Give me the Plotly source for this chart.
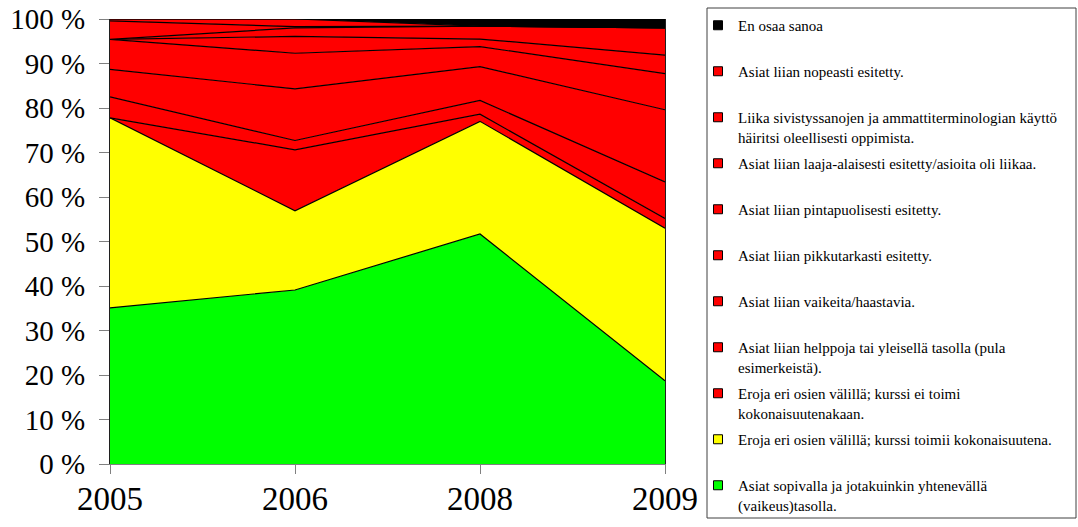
import plotly.graph_objects as go

# Survey years (category axis)
years = ["2005", "2006", "2008", "2009"]

# Response shares in percent, one list per answer option (bottom of stack first)
sopivalla = [35.1, 39.1, 51.7, 18.7]
eroja_toimii = [42.7, 17.8, 25.3, 34.3]
eroja_ei_toimi = [0.0, 13.7, 1.6, 2.2]
helppoja = [4.7, 2.1, 3.1, 8.2]
vaikeita = [6.2, 11.6, 7.6, 16.2]
pikkutarkasti = [6.7, 8.0, 4.5, 8.1]
pintapuolisesti = [0.0, 3.8, 1.7, 4.2]
laaja_alaisesti = [0.0, 1.9, 2.9, 6.1]
sivistyssanat = [4.2, 0.3, 0.0, 0.0]
nopeasti = [0.4, 1.7, 0.0, 0.0]
en_osaa = [0.0, 0.0, 1.6, 2.0]

series_names = [
    "Asiat sopivalla ja jotakuinkin yhtenevällä<br>(vaikeus)tasolla.",
    "Eroja eri osien välillä; kurssi toimii kokonaisuutena.<br> ",
    "Eroja eri osien välillä; kurssi ei toimi<br>kokonaisuutenakaan.",
    "Asiat liian helppoja tai yleisellä tasolla (pula<br>esimerkeistä).",
    "Asiat liian vaikeita/haastavia.<br> ",
    "Asiat liian pikkutarkasti esitetty.<br> ",
    "Asiat liian pintapuolisesti esitetty.<br> ",
    "Asiat liian laaja-alaisesti esitetty/asioita oli liikaa.<br> ",
    "Liika sivistyssanojen ja ammattiterminologian käyttö<br>häiritsi oleellisesti oppimista.",
    "Asiat liian nopeasti esitetty.<br> ",
    "En osaa sanoa<br> ",
]
series_values = [
    sopivalla, eroja_toimii, eroja_ei_toimi, helppoja, vaikeita,
    pikkutarkasti, pintapuolisesti, laaja_alaisesti, sivistyssanat,
    nopeasti, en_osaa,
]
series_colors = [
    "#00FF00", "#FFFF00", "#FF0000", "#FF0000", "#FF0000", "#FF0000",
    "#FF0000", "#FF0000", "#FF0000", "#FF0000", "#000000",
]

FONT = "Liberation Serif"

fig = go.Figure()

# Stacked areas, outlined in black
for name, vals, col in zip(series_names, series_values, series_colors):
    fig.add_trace(go.Scatter(
        x=years, y=vals, stackgroup="one", mode="lines",
        line=dict(color="#000000", width=1.2),
        fillcolor=col, name=name, showlegend=False, hoverinfo="x+y+name",
    ))

# Legend entries with square swatches, listed top of stack first
for i, (name, col) in enumerate(reversed(list(zip(series_names, series_colors)))):
    fig.add_trace(go.Scatter(
        x=[None], y=[None], mode="markers", name=name,
        legendgroup=f"g{i}",
        marker=dict(symbol="square", size=9, color=col,
                    line=dict(color="#000000", width=1)),
    ))

# Legend frame
fig.add_shape(
    type="rect", xref="paper", yref="paper",
    x0=(707 - 110) / 555, x1=(1076 - 110) / 555,
    y0=(464 - 518) / 445, y1=(464 - 8) / 445,
    line=dict(color="#404040", width=1), fillcolor="rgba(0,0,0,0)",
    layer="above",
)

fig.update_layout(
    width=1078, height=527,
    margin=dict(l=110, r=413, t=19, b=63, autoexpand=False),
    paper_bgcolor="white", plot_bgcolor="white",
    font=dict(family=FONT, color="black"),
    showlegend=True,
    legend=dict(
        xref="container", yref="container",
        x=698 / 1078, y=1 - 9 / 527, xanchor="left", yanchor="top",
        borderwidth=0, bgcolor="rgba(0,0,0,0)",
        font=dict(family=FONT, size=15, color="black"),
        traceorder="grouped", tracegroupgap=4, valign="top",
        itemwidth=30, maxheight=520,
    ),
    xaxis=dict(
        type="category", range=[0, 3], autorange=False, automargin=False,
        showgrid=False, zeroline=False,
        showline=True, linecolor="#808080", linewidth=1,
        ticks="outside", ticklen=9, tickcolor="#808080",
        tickfont=dict(family=FONT, size=33, color="black"),
        ticklabelstandoff=-4,
    ),
    yaxis=dict(
        range=[0, 100], autorange=False, automargin=False,
        tickvals=[0, 10, 20, 30, 40, 50, 60, 70, 80, 90, 100],
        ticktext=["0 %", "10 %", "20 %", "30 %", "40 %", "50 %",
                  "60 %", "70 %", "80 %", "90 %", "100 %"],
        showgrid=False, zeroline=False,
        showline=True, linecolor="#202020", linewidth=1, mirror=True,
        ticks="outside", ticklen=10, tickcolor="#808080",
        tickfont=dict(family=FONT, size=29, color="black"),
        ticklabelstandoff=8,
    ),
)

fig.write_html("out.html")
